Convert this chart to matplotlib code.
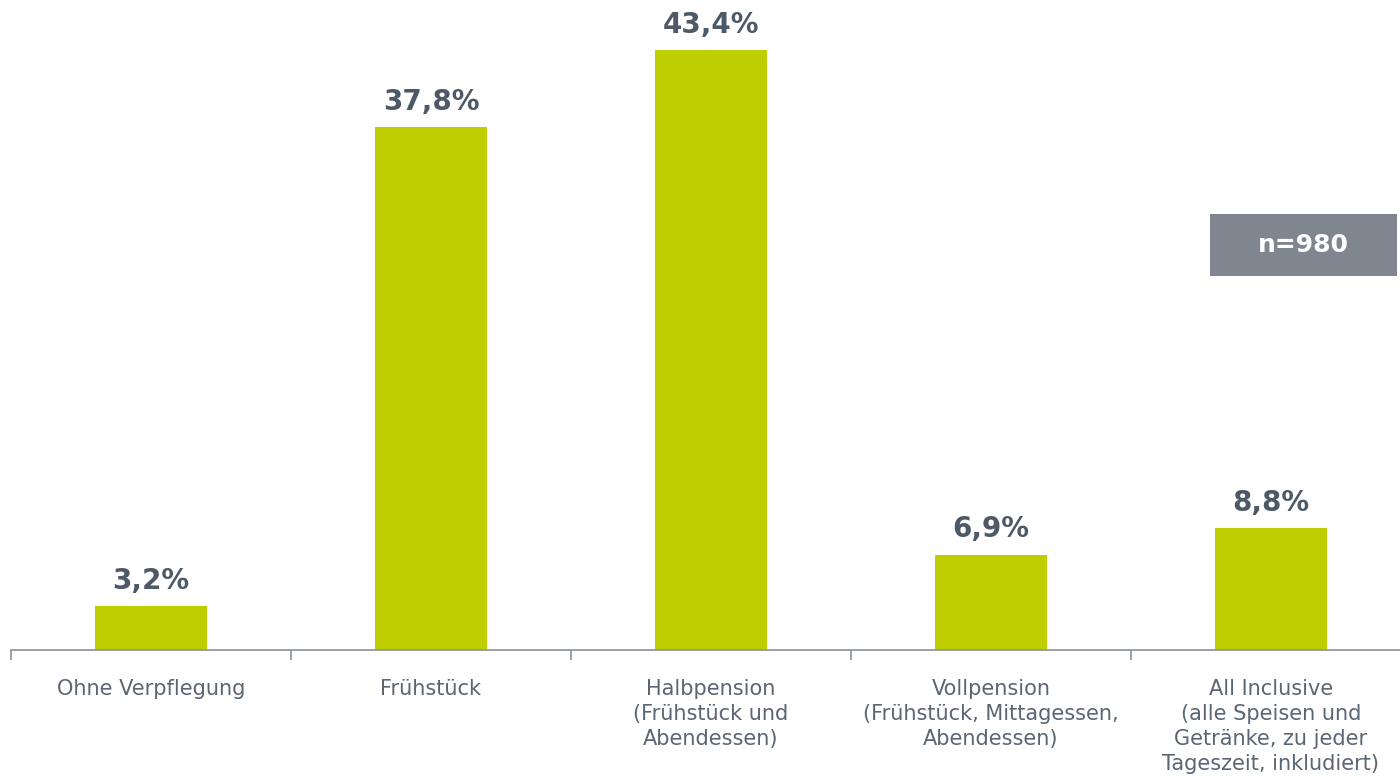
import matplotlib.pyplot as plt
import numpy as np
from matplotlib.patches import Rectangle

categories = [
    "Ohne Verpflegung",
    "Frühstück",
    "Halbpension\n(Frühstück und\nAbendessen)",
    "Vollpension\n(Frühstück, Mittagessen,\nAbendessen)",
    "All Inclusive\n(alle Speisen und\nGetränke, zu jeder\nTageszeit, inkludiert)",
]
shares = [3.2, 37.8, 43.4, 6.9, 8.8]
sample_label = "n=980"

bar_color = "#bfce00"
text_color = "#4d5966"
tick_color = "#5b6674"
axis_color = "#8a919a"
box_color = "#7f868f"

fig = plt.figure(figsize=(14, 7.76), dpi=100)
# axes run slightly past the right edge so the last category is clipped
ax = fig.add_axes([11 / 1400, 126 / 776, 1400 / 1400, 650 / 776])

x = np.arange(len(categories))
ax.bar(x, shares, width=0.4, color=bar_color, zorder=2)

for xi, v in zip(x, shares):
    ax.annotate(f"{v:.1f}%".replace(".", ","), (xi, v), xytext=(0, 8),
                textcoords="offset points", ha="center", va="bottom",
                fontsize=20, fontweight="bold", color=text_color)

ax.set_xlim(-0.5, len(categories) - 0.5)
ax.set_ylim(0, 47.0)

for side in ["top", "right", "left"]:
    ax.spines[side].set_visible(False)
ax.spines["bottom"].set_color(axis_color)
ax.spines["bottom"].set_linewidth(1.2)
ax.set_yticks([])

ax.set_xticks(x)
ax.set_xticklabels(categories, fontsize=15, color=tick_color, linespacing=1.3,
                   va="top")
ax.tick_params(axis="x", which="major", length=0, pad=21)
ax.set_xticks(np.arange(len(categories) + 1) - 0.5, minor=True)
ax.tick_params(axis="x", which="minor", length=7, width=1.2, color=axis_color)

# grey box with the sample size
fig.patches.append(Rectangle((1210 / 1400, 1 - 276 / 776), 187 / 1400, 62 / 776,
                             transform=fig.transFigure, facecolor=box_color,
                             edgecolor="none", zorder=0))
fig.text(1303 / 1400, 1 - 245 / 776, sample_label, ha="center", va="center",
         fontsize=18, fontweight="bold", color="white")

fig.savefig("out.png", dpi=100)
